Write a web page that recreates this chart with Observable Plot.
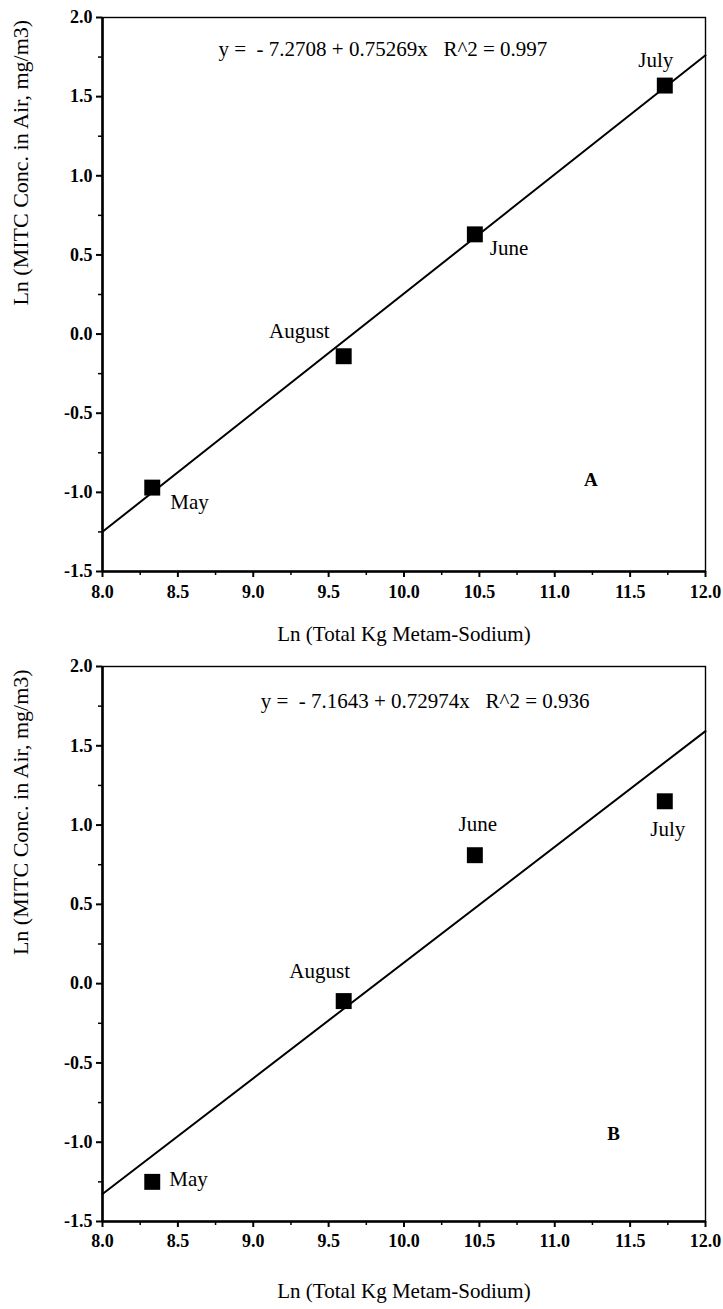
<!DOCTYPE html>
<html>
<head>
<meta charset="utf-8">
<script src="https://cdn.jsdelivr.net/npm/d3@7"></script>
<script src="https://cdn.jsdelivr.net/npm/@observablehq/plot@0.6"></script>
<style>
  html, body { margin: 0; padding: 0; background: #fff; }
  #chart svg { display: block; }
</style>
</head>
<body>
<div id="chart"></div>
<script>
// Monthly metam-sodium use against MITC air concentration, both as natural logs
const months = ["May", "August", "June", "July"];
const lnKg = [8.33, 9.60, 10.47, 11.73];
const lnConcA = [-0.97, -0.14, 0.63, 1.57];
const lnConcB = [-1.25, -0.11, 0.81, 1.15];

// Fitted regression lines: [intercept, slope] and R^2
const fitA = [-7.2708, 0.75269];
const fitB = [-7.1643, 0.72974];
const r2A = "0.997";
const r2B = "0.936";

// Axis extents and tick values
const xDomain = [8.0, 12.0];
const yDomain = [-1.5, 2.0];
const xTicks = [8.0, 8.5, 9.0, 9.5, 10.0, 10.5, 11.0, 11.5, 12.0];
const yTicks = [-1.5, -1.0, -0.5, 0.0, 0.5, 1.0, 1.5, 2.0];
const xMinor = [8.25, 8.75, 9.25, 9.75, 10.25, 10.75, 11.25, 11.75];
const yMinor = [-1.25, -0.75, -0.25, 0.25, 0.75, 1.25, 1.75];

const xTitle = "Ln (Total Kg Metam-Sodium)";
const yTitle = "Ln (MITC Conc. in Air, mg/m3)";

const serif = "'Liberation Serif', 'Times New Roman', serif";
const fmt = d => d.toFixed(1);

function equation(fit, r2) {
  return `y =  - ${Math.abs(fit[0]).toFixed(4)} + ${fit[1].toFixed(5)}x   R^2 = ${r2}`;
}

function panel(conc, fit, r2, cfg) {
  const pts = months.map((m, i) => ({month: m, x: lnKg[i], y: conc[i]}));
  const fitLine = xDomain.map(x => ({x, y: fit[0] + fit[1] * x}));
  return Plot.plot({
    width: 723,
    height: cfg.height,
    marginTop: cfg.marginTop,
    marginBottom: cfg.marginBottom,
    marginLeft: 102,
    marginRight: 18,
    style: {fontFamily: serif, fontSize: "18px", color: "#000", background: "#fff"},
    x: {domain: xDomain},
    y: {domain: yDomain},
    marks: [
      Plot.frame({stroke: "#000", strokeWidth: 1.4}),
      Plot.axisX(xTicks, {tickSize: 6, tickPadding: cfg.xTickPadding, tickFormat: fmt, fontWeight: "bold", fontSize: 18, strokeWidth: 2, label: null}),
      Plot.axisX(xMinor, {tickSize: 4, tickFormat: () => "", strokeWidth: 1.5, label: null}),
      Plot.axisY(yTicks, {tickSize: 6, tickPadding: 4, tickFormat: fmt, fontWeight: "bold", fontSize: 18, strokeWidth: 2, label: null}),
      Plot.axisY(yMinor, {tickSize: 4, tickFormat: () => "", strokeWidth: 1.5, label: null}),
      Plot.ruleX([xDomain[0]], {stroke: "#000", strokeWidth: 2.6}),
      Plot.ruleY([yDomain[0]], {stroke: "#000", strokeWidth: 2.6}),
      Plot.line(fitLine, {x: "x", y: "y", stroke: "#000", strokeWidth: 2}),
      Plot.dot(pts, {x: "x", y: "y", symbol: "square", r: 9, fill: "#000", stroke: "none"}),
      pts.map((p, i) => Plot.text([p], {
        x: "x", y: "y", text: "month",
        dx: cfg.labels[i][0], dy: cfg.labels[i][1], textAnchor: cfg.labels[i][2],
        fontSize: 21, fontFamily: serif, fill: "#000"
      })),
      Plot.text([equation(fit, r2)], {
        x: cfg.eqAt[0], y: cfg.eqAt[1], text: d => d,
        fontSize: 21, fontFamily: serif, fill: "#000"
      }),
      Plot.text([cfg.letter], {
        x: cfg.letterAt[0], y: cfg.letterAt[1], text: d => d,
        fontSize: 19, fontWeight: "bold", fontFamily: serif, fill: "#000"
      }),
      Plot.text([xTitle], {
        frameAnchor: "bottom", text: d => d, dy: cfg.xTitleOffset,
        fontSize: 21, fontFamily: serif, fill: "#000"
      }),
      Plot.text([yTitle], {
        frameAnchor: "left", y: () => 0.18, text: d => d, rotate: -90, dx: -82,
        fontSize: 22, fontFamily: serif, fill: "#000"
      })
    ]
  });
}

const chart = document.getElementById("chart");

chart.append(panel(lnConcA, fitA, r2A, {
  height: 655, marginTop: 17, marginBottom: 84, xTitleOffset: 69, xTickPadding: 8,
  letter: "A", letterAt: [11.24, -0.92], eqAt: [9.86, 1.80],
  labels: [[18, 15, "start"], [-14, -25, "end"], [15, 14, "start"], [-9, -25, "middle"]]
}));

chart.append(panel(lnConcB, fitB, r2B, {
  height: 654, marginTop: 11, marginBottom: 88, xTitleOffset: 76, xTickPadding: 7,
  letter: "B", letterAt: [11.39, -0.95], eqAt: [10.14, 1.78],
  labels: [[17, -3, "start"], [-24, -30, "middle"], [3, -31, "middle"], [3, 28, "middle"]]
}));
</script>
</body>
</html>
